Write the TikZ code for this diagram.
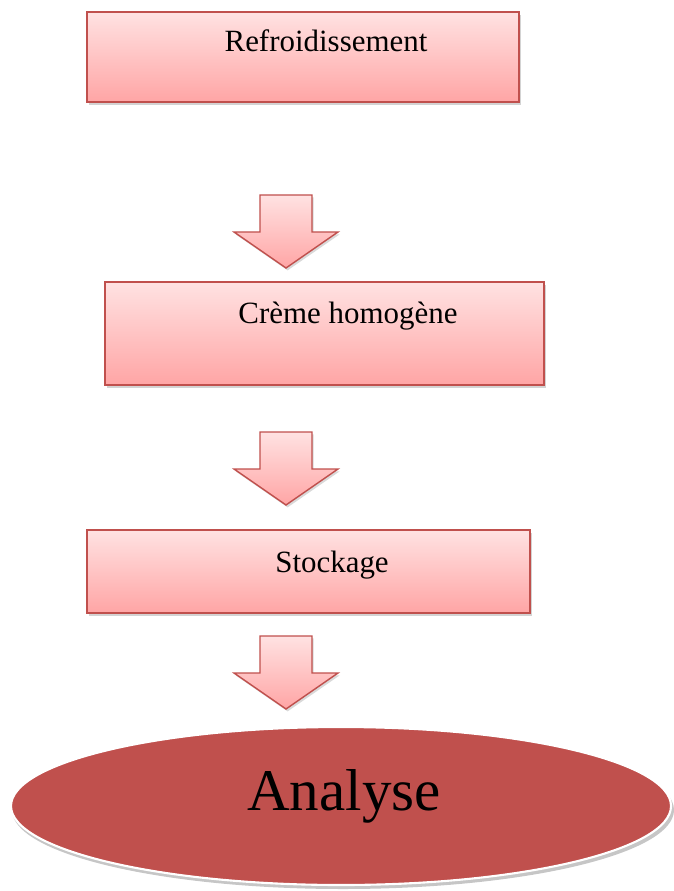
\documentclass[tikz,border=0pt]{standalone}
\usepackage{fontspec}
\setmainfont{Liberation Serif}
\usetikzlibrary{shadows}
\definecolor{boxred}{HTML}{C0504D}
\definecolor{boxtop}{HTML}{FFE2E2}
\definecolor{boxbot}{HTML}{FFA5A5}
\tikzset{
  stepbox/.style={draw=boxred, line width=1pt, top color=boxtop, bottom color=boxbot,
    drop shadow={shadow xshift=0.5mm, shadow yshift=-0.7mm, opacity=0.35}},
  steptext/.style={anchor=base, font=\fontsize{22}{26}\selectfont},
  flowarrow/.pic={
    \draw[draw=boxred, line width=1pt, top color=boxtop, bottom color=boxbot,
      drop shadow={shadow xshift=0.4mm, shadow yshift=-0.6mm, opacity=0.3}]
      (-26,0) -- (26,0) -- (26,37) -- (52,37) -- (0,73) -- (-52,37) -- (-26,37) -- cycle;
  }
}
\begin{document}
\begin{tikzpicture}[x=0.025cm, y=-0.025cm]
    \useasboundingbox (0,0) rectangle (673,891);
    % boxes
    \node[stepbox, minimum width=10.8cm, minimum height=2.25cm] (refroid) at (303,57) {};
    \node[steptext] (refroidtxt) at (326,52) {Refroidissement};
    \pic at (286,195) {flowarrow};
    \node[stepbox, minimum width=10.975cm, minimum height=2.575cm] (creme) at (324.5,333.5) {};
    \node[steptext] (cremetxt) at (348,324) {Crème homogène};
    \pic at (286,432) {flowarrow};
    \node[stepbox, minimum width=11.075cm, minimum height=2.075cm] (stock) at (308.5,571.5) {};
    \node[steptext] (stocktxt) at (332,572) {Stockage};
    \pic at (286,636) {flowarrow};
    % final step
    \fill[gray!45] (343,810) ellipse [x radius=331, y radius=79];
    \draw[white, line width=1.5pt, fill=boxred] (341,806) ellipse [x radius=330, y radius=79];
    \node[anchor=base, font=\fontsize{42}{48}\selectfont] (analyse) at (344,810) {Analyse};
\end{tikzpicture}
\end{document}
